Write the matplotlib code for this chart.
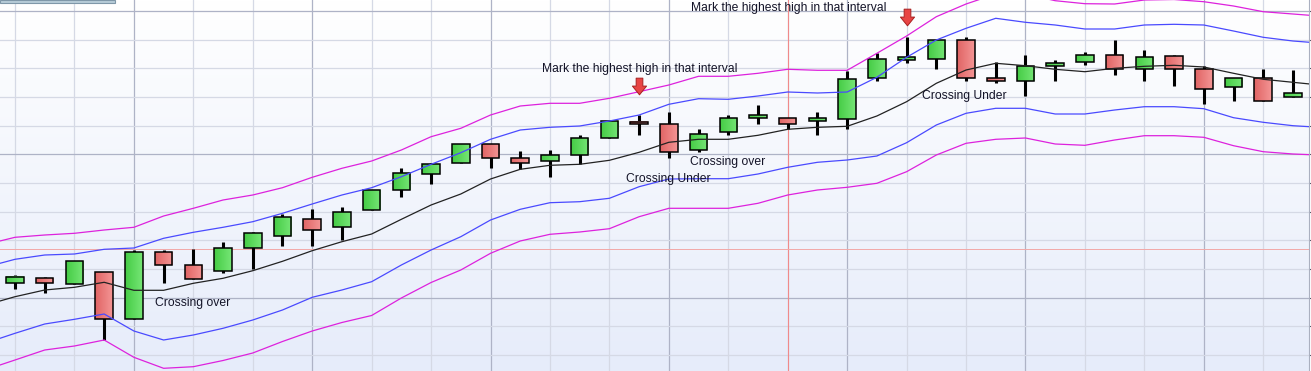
import numpy as np
import matplotlib
matplotlib.use('Agg')
import matplotlib.pyplot as plt
from matplotlib.patches import Rectangle
from matplotlib.path import Path

# Свечи (OHLC), значения
opens = [87.7, 92.7, 86.7, 98.7, 51.7, 118.7, 105.7, 99.7, 122.7, 134.7, 151.7, 143.7, 160.7, 180.7,
         196.7, 207.7, 226.7, 212.7, 209.7, 215.7, 232.7, 249, 246.7, 220.7, 238.7, 252.7, 252.7, 249.7,
         251.7, 292.7, 310.7, 311.7, 330.7, 292.7, 289.7, 304.7, 308.7, 315.7, 301.7, 314.7, 301.7, 283.7,
         292.7, 273.7]
highs = [96, 94.3, 109.7, 98.7, 121, 121, 121.7, 128.7, 138.7, 156.7, 162, 164, 180.7, 202.7,
         207.7, 226.7, 226.7, 220, 221, 235.7, 249.7, 256, 258.7, 241.7, 255.7, 265.7, 252.7, 258.7,
         299.7, 317.7, 334.3, 330.7, 333.7, 308.7, 315.7, 310.7, 318.7, 330.7, 320.7, 315.7, 304.7, 292.7,
         301.7, 300.7]
lows = [81.7, 77.7, 86.7, 31, 51.7, 88.3, 91.7, 97.7, 102, 125.3, 125.3, 131.3, 160.7, 174.3,
        186.7, 207.7, 203.3, 201.7, 194.3, 206.7, 232.7, 235.7, 212.7, 218.7, 235.7, 246.7, 241.7, 235.7,
        241.7, 289.7, 307.7, 301.7, 289.7, 287.7, 275.3, 289.7, 305.7, 295.7, 289.7, 284.7, 266.7, 269.7,
        269.7, 273.7]
closes = [94, 87.7, 109.7, 51.7, 118.7, 105.7, 91.7, 122.7, 137.7, 153.7, 140.7, 158.7, 180.7, 197.7,
          206.7, 226.7, 212.7, 207.7, 215.7, 232.7, 249.7, 246.7, 218.7, 236.7, 252.7, 255.7, 246.7, 252.7,
          291.7, 311.7, 313.7, 330.7, 292.7, 289.7, 304.7, 307.7, 315.7, 301.7, 313.7, 301.7, 281.7, 292.7,
          269.7, 277.7]

# Полосы (индексы от -1 до 44, крайние точки за краем графика)
mid_band = [65.8, 74.3, 81, 83.7, 88.7, 80.7, 80.7, 87.7, 92.7, 100.3, 109.7, 120.3, 129.3, 137, 151.7,
            166, 177, 192, 201.7, 205.7, 206.7, 210.7, 218.7, 228.7, 231.7, 231.7, 235.7, 241.7, 243.7,
            244.7, 255, 269.3, 287.7, 301, 307.7, 305.3, 301.7, 299.3, 302.7, 304.7, 305.7, 304, 297.7,
            291.7, 288.7, 285.7]
upper_1 = [103.8, 111.7, 116, 117, 121.7, 123, 132.7, 138.7, 143.7, 149.3, 157.7, 167, 176, 183.3, 194.3,
           206.7, 218.3, 231.7, 241, 243.7, 245, 250, 256, 266.7, 272.3, 271.7, 275, 279, 278, 279, 293.7,
           313.7, 331, 342.7, 352.7, 348.7, 346, 342, 342, 346, 346.7, 346, 340, 333.7, 330, 327.7]
lower_1 = [27.8, 37.7, 47, 51.7, 57, 40, 31, 36, 42.7, 51, 61, 73.7, 81, 89.3, 106, 121, 134.3, 151,
           161.7, 168.3, 169.3, 172.7, 184.3, 192, 192.3, 192.3, 197, 203.7, 208.7, 211, 215, 228.3, 246,
           257.7, 262.7, 262.7, 257, 257, 261, 264.3, 264.3, 262.3, 253.3, 248.7, 245.3, 243.5]
upper_2 = [126.4, 133.7, 136, 137.7, 141, 143.7, 155, 162.7, 171, 176, 183.3, 193.7, 202.7, 210, 221,
           234.3, 242.7, 256, 265, 267.7, 267.7, 272.7, 279.3, 286, 294.7, 294.7, 297.7, 301.7, 300.7,
           300.7, 317.7, 335, 354.3, 367, 377, 377, 370.3, 367.3, 367, 371, 371.5, 369.3, 365, 359.3, 357,
           354.7]
lower_2 = [1.1, 11, 21, 25, 31, 13.7, 2.7, 4.3, 10.5, 18, 29.5, 40, 48.5, 55.5, 73, 88.5, 101, 117.7,
           130, 136.7, 139, 142.3, 154.3, 162.7, 162.7, 162.7, 167.7, 176, 181, 183.7, 187.7, 199.3, 216,
           227.7, 231.7, 233, 227, 225.7, 231, 235.3, 235.3, 233.7, 225.3, 219.3, 217, 215.8]

n = len(opens)
x = np.arange(n)
xb = np.arange(-1, n + 1)

fig = plt.figure(figsize=(13.11, 3.71), dpi=100)
ax = fig.add_axes([0, 0, 1309 / 1311, 1])
ax.set_xlim(-0.505, 43.54)
ax.set_ylim(0, 371)

# Фон с градиентом
grad = np.linspace(0, 1, 256).reshape(-1, 1)
cmap_bg = matplotlib.colors.LinearSegmentedColormap.from_list('bg', ['#e6ecfa', '#ffffff'])
ax.imshow(grad, extent=[0, 1, 0, 1], transform=ax.transAxes, cmap=cmap_bg,
          aspect='auto', origin='lower', zorder=0)

# Сетка
for i in range(0, n, 2):
    c = '#aeb3c6' if i % 6 == 4 else '#d5d9e5'
    ax.axvline(i, color=c, lw=0.9, zorder=1)
hy = [360 - 28.67 * k for k in range(13)]
for k, y in enumerate(hy):
    c = '#aeb3c6' if k % 5 == 0 else '#d5d9e5'
    ax.axhline(y, color=c, lw=0.9, zorder=1)
# Перекрестие
ax.axvline(26, color='#f08a8a', lw=0.8, zorder=1.5)
ax.axhline(122, color='#f2a8a8', lw=0.7, zorder=1.5)

# Свечи
w = 0.59
cm_g = matplotlib.colors.LinearSegmentedColormap.from_list('g', ['#45cc45', '#76e676'])
cm_r = matplotlib.colors.LinearSegmentedColormap.from_list('r', ['#e06464', '#f49595'])
hgrad = np.linspace(0, 1, 64).reshape(1, -1)
for i in range(n):
    o, h, l, c = opens[i], highs[i], lows[i], closes[i]
    ax.plot([i, i], [l, h], color='black', lw=2.2, solid_capstyle='butt', zorder=2)
    lo, hi = min(o, c), max(o, c)
    cm = cm_g if c >= o else cm_r
    ax.imshow(hgrad, extent=[i - w / 2, i + w / 2, lo, hi], cmap=cm, aspect='auto', zorder=3)
    ax.add_patch(Rectangle((i - w / 2, lo), w, hi - lo, fill=False, edgecolor='black', lw=1.1, zorder=3.5))

# Полосы
ax.plot(xb, upper_2, color='#dd22dd', lw=0.9, zorder=4)
ax.plot(xb, lower_2, color='#dd22dd', lw=0.9, zorder=4)
ax.plot(xb, upper_1, color='#4a4aff', lw=0.9, zorder=4)
ax.plot(xb, lower_1, color='#4a4aff', lw=0.9, zorder=4)
ax.plot(xb, mid_band, color='#222222', lw=0.9, zorder=4)

ax.set_xlim(-0.505, 43.54)
ax.set_ylim(0, 371)

# Подписи
font = dict(family='Liberation Sans', size=8.7, color='#141428', va='center', ha='left', zorder=6)
ax.text(17.73, 302, 'Mark the highest high in that interval', **font)
ax.text(22.75, 363, 'Mark the highest high in that interval', **font)
ax.text(4.71, 68, 'Crossing over', **font)
ax.text(20.56, 192, 'Crossing Under', **font)
ax.text(22.71, 209, 'Crossing over', **font)
ax.text(30.52, 275, 'Crossing Under', **font)

# Красные стрелки вниз
arrow = Path([(-0.4, 1), (0.4, 1), (0.4, 0.05), (0.85, 0.05), (0, -1), (-0.85, 0.05), (-0.4, 0.05), (-0.4, 1)],
             [Path.MOVETO] + [Path.LINETO] * 6 + [Path.CLOSEPOLY])
ax.plot([21, 30], [285.5, 354], linestyle='none', marker=arrow, markersize=12,
        markerfacecolor='#e84444', markeredgecolor='#a82020', markeredgewidth=0.7, zorder=6)

# Рамка и засечки справа
for s in ['left', 'top', 'bottom']:
    ax.spines[s].set_visible(False)
ax.spines['right'].set_color('#aab0c0')
ax.set_xticks([])
ax.yaxis.tick_right()
ax.set_yticks(hy)
ax.tick_params(axis='y', length=2, color='#555566', labelright=False, direction='out')

# Кусок панели сверху слева
fig.add_artist(Rectangle((0, 1 - 2.5 / 371), 115 / 1311, 2.5 / 371, transform=fig.transFigure,
                         facecolor='#b8ccd8', edgecolor='#7f97a8', lw=0.8))

fig.savefig('out.png', dpi=100)
